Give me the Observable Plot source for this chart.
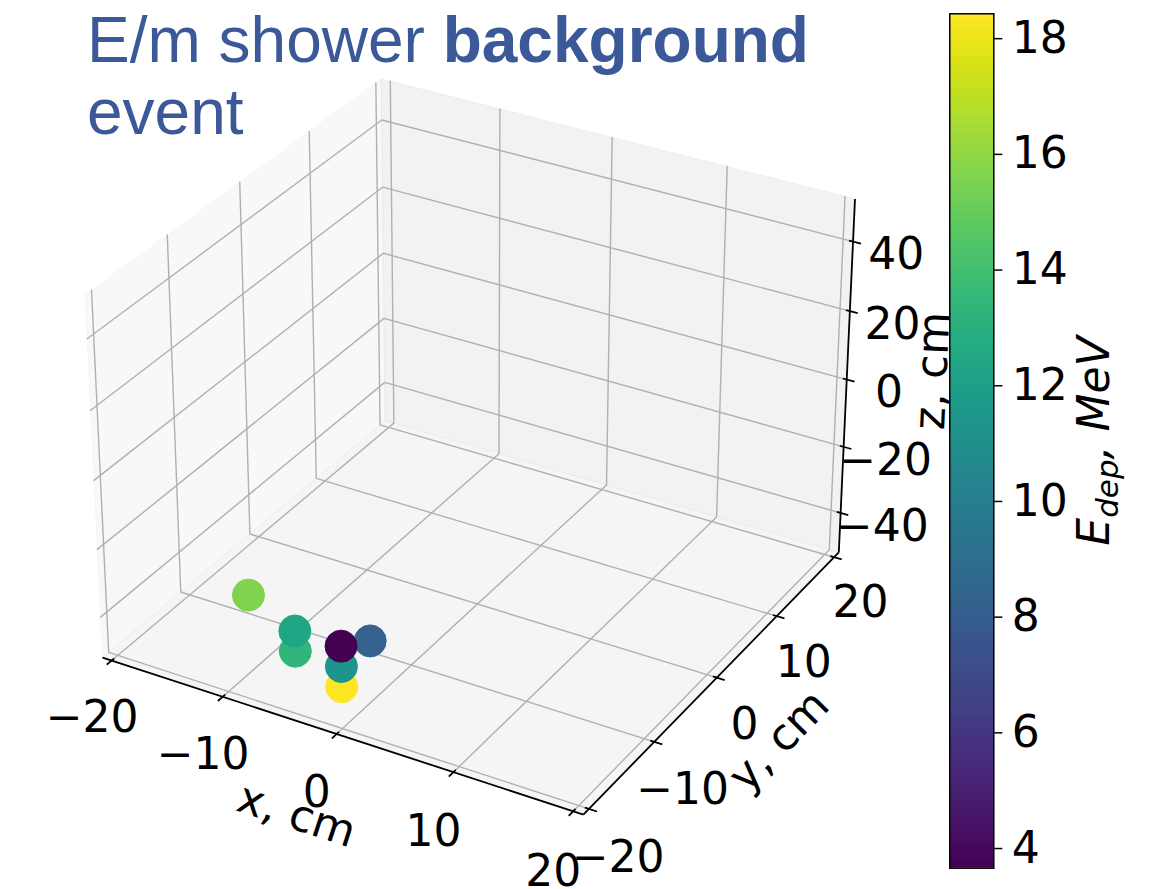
<!DOCTYPE html>
<html>
<head>
<meta charset="utf-8">
<script src="https://cdn.jsdelivr.net/npm/d3@7"></script>
<script src="https://cdn.jsdelivr.net/npm/@observablehq/plot@0.6"></script>
<style>
  html, body { margin: 0; padding: 0; background: #fff; }
  #chart { position: relative; width: 1154px; height: 889px; overflow: hidden; }
  #scene, #cbar { position: absolute; top: 0; }
  #scene { left: 0; }
  #cbar { left: 940px; }
  #title {
    position: absolute; left: 87px; top: 4px;
    font-family: "Liberation Sans", Arial, sans-serif;
    font-size: 64px; line-height: 72px; color: #3b5998; white-space: nowrap;
  }
  svg { display: block; overflow: visible; }
</style>
</head>
<body>
<div id="chart">
  <div id="scene"></div>
  <div id="cbar"></div>
  <div id="title">E/m shower <b>background</b><br>event</div>
</div>
<script>
// Calorimeter hits: position (cm) and deposited energy (MeV)
const hitX = [-13.9, -7.1, -7.1, -2.0, -2.0, -2.0, -0.5];
const hitY = [-11.0, -15.15, -15.15, -16.8, -16.8, -16.8, -15.1];
const hitZ = [-44, -46, -40, -48, -42, -36, -36];
const hitE = [15.6, 13.3, 12.4, 18.43, 11.3, 3.66, 8.2];

// Axis limits and ticks
const xLim = [-20, 20];
const yLim = [-20, 20];
const zLim = [-50, 50];
const xTicks = [-20, -10, 0, 10, 20];
const yTicks = [-20, -10, 0, 10, 20];
const zTicks = [-40, -20, 0, 20, 40];
const cbarTicks = [4, 6, 8, 10, 12, 14, 16, 18];

const eMin = d3.min(hitE), eMax = d3.max(hitE);
const fmt = t => (t < 0 ? "\u2212" : "") + Math.abs(t);

// Perspective camera (elevation 30°, azimuth -60°, box aspect 4:4:3)
const lims = [xLim, yLim, zLim];
const rawAspect = [4, 4, 3];
const boxAspect = rawAspect.map(a => a * 1.8294640721620434 / Math.hypot(...rawAspect));
const elev = 30, azim = -60, dist = 10;
const rad = Math.PI / 180;
const w = [Math.cos(elev * rad) * Math.cos(azim * rad), Math.cos(elev * rad) * Math.sin(azim * rad), Math.sin(elev * rad)];
const uRaw = [-w[1], w[0], 0];
const u = uRaw.map(c => c / Math.hypot(...uRaw));
const v = [w[1] * u[2] - w[2] * u[1], w[2] * u[0] - w[0] * u[2], w[0] * u[1] - w[1] * u[0]];

function project([x, y, z]) {
  const q = [x, y, z].map((c, i) => (c - (lims[i][0] + lims[i][1]) / 2) / (lims[i][1] - lims[i][0]) * boxAspect[i]);
  const dot = a => a[0] * q[0] + a[1] * q[1] + a[2] * q[2];
  const depth = dot(w);
  return {px: dot(u) / (dist - depth), py: dot(v) / (dist - depth), depth};
}

// Box edges are padded by 1/48 of each range; tick lengths use 1/12 of the range
const ext = lims.map(([a, b]) => [a - (b - a) / 48, b + (b - a) / 48]);
const [[X0, X1], [Y0, Y1], [Z0, Z1]] = ext;
const [dX, dY] = lims.map(([a, b]) => (b - a) / 12);

const polyRows = (lines) => lines.flatMap((pts, k) => pts.map(p => ({k, ...project(p)})));

const panes = [
  {gray: 242, pts: [[X0, Y0, Z0], [X0, Y1, Z0], [X0, Y1, Z1], [X0, Y0, Z1]]},
  {gray: 230, pts: [[X0, Y1, Z0], [X1, Y1, Z0], [X1, Y1, Z1], [X0, Y1, Z1]]},
  {gray: 236, pts: [[X0, Y0, Z0], [X1, Y0, Z0], [X1, Y1, Z0], [X0, Y1, Z0]]}
];

const gridRows = polyRows([
  ...xTicks.map(t => [[t, Y0, Z0], [t, Y1, Z0], [t, Y1, Z1]]),
  ...yTicks.map(t => [[X1, t, Z0], [X0, t, Z0], [X0, t, Z1]]),
  ...zTicks.map(t => [[X1, Y1, t], [X0, Y1, t], [X0, Y0, t]])
]);

const axisRows = polyRows([
  [[X0, Y0, Z0], [X1, Y0, Z0]],
  [[X1, Y0, Z0], [X1, Y1, Z0]],
  [[X1, Y1, Z0], [X1, Y1, Z1]]
]);

const seg = (p, q) => ({a: project(p), b: project(q)});
const tickRows = [
  ...xTicks.map(t => seg([t, Y0 - 0.2 * dY, Z0], [t, Y0 + 0.1 * dY, Z0])),
  ...yTicks.map(t => seg([X1 + 0.2 * dX, t, Z0], [X1 - 0.1 * dX, t, Z0])),
  ...zTicks.map(t => seg([X1 + 0.2 * dX, Y1, t], [X1 - 0.1 * dX, Y1, t]))
];

const tickLabels = [
  ...xTicks.map(t => ({label: fmt(t), ...project([t, Y0 - 2.9, Z0 - 11.8])})),
  ...yTicks.map(t => ({label: fmt(t), ...project([X1 + 2.45, t, Z0 - 11.6])})),
  ...zTicks.map(t => ({label: fmt(t), ...project([X1 + 3.75, Y1 - 0.3, t])}))
];

const angle = (p, q) => {
  const a = project(p), b = project(q);
  return Math.atan2(-(b.py - a.py), b.px - a.px) / rad;
};
const axisTitles = [
  {label: "x, cm", angle: angle([X0, Y0, Z0], [X1, Y0, Z0]), ...project([0, Y0 - 5.75, Z0 - 12.8])},
  {label: "y, cm", angle: angle([X1, Y0, Z0], [X1, Y1, Z0]), ...project([X1 + 5.4, 0, Z0 - 13.1])},
  {label: "z, cm", angle: angle([X1, Y1, Z0], [X1, Y1, Z1]), ...project([X1 + 5.15, Y1 + 4.55, 0])}
];

// Hits drawn from far to near
const hits = hitX.map((x, i) => ({E: hitE[i], ...project([x, hitY[i], hitZ[i]])}))
  .sort((a, b) => a.depth - b.depth);

const colorScale = {type: "linear", scheme: "viridis", domain: [eMin, eMax]};
const baseStyle = {fontFamily: "'DejaVu Sans', sans-serif", fontSize: "44px", background: "transparent", color: "black"};

const scene = Plot.plot({
  width: 1154, height: 889, margin: 0,
  x: {domain: [-0.095, 0.09], range: [37.4, 893.4], axis: null},
  y: {domain: [-0.095, 0.09], range: [868.1, 12.1], axis: null},
  color: colorScale,
  style: baseStyle,
  marks: [
    ...panes.map(p => {
      const c = `rgb(${p.gray},${p.gray},${p.gray})`;
      return Plot.line([...p.pts, p.pts[0]].map(project), {
        x: "px", y: "py", fill: c, fillOpacity: 0.5, stroke: c, strokeOpacity: 0.5, strokeWidth: 1
      });
    }),
    Plot.line(gridRows, {x: "px", y: "py", z: "k", stroke: "#b0b0b0", strokeWidth: 1.4}),
    Plot.line(axisRows, {x: "px", y: "py", z: "k", stroke: "black", strokeWidth: 1.8, strokeLinecap: "butt"}),
    Plot.link(tickRows, {x1: d => d.a.px, y1: d => d.a.py, x2: d => d.b.px, y2: d => d.b.py, stroke: "black", strokeWidth: 1.8}),
    Plot.text(tickLabels, {x: "px", y: "py", text: "label", fontSize: 44, fill: "black", textAnchor: "middle", lineAnchor: "middle"}),
    Plot.text(axisTitles, {x: "px", y: "py", text: "label", rotate: "angle", fontSize: 44, fill: "black", textAnchor: "middle", lineAnchor: "middle"}),
    Plot.dot(hits, {x: "px", y: "py", r: 16, fill: "E", stroke: "E", strokeWidth: 1})
  ]
});
document.getElementById("scene").append(scene);

// Colour bar
const nSteps = 600;
const steps = d3.range(nSteps).map(i => eMin + (eMax - eMin) * i / nSteps);
const cbarLabel = "E, MeV";
const cbar = Plot.plot({
  width: 214, height: 889,
  marginLeft: 9.3, marginRight: 160.7, marginTop: 13.3, marginBottom: 21.3,
  x: {domain: [0, 1], axis: null},
  y: {domain: [eMin, eMax]},
  color: colorScale,
  style: baseStyle,
  marks: [
    Plot.rect(steps, {x1: 0, x2: 1, y1: d => d, y2: eMax, fill: d => d}),
    Plot.frame({stroke: "black", strokeWidth: 1.5}),
    Plot.axisY(cbarTicks, {anchor: "right", tickSize: 8, tickPadding: 10, label: null, strokeWidth: 1.5,
      fontSize: 44, tickFormat: d => String(d)}),
    Plot.text([cbarLabel], {frameAnchor: "right", dx: 114.7, rotate: -90, textAnchor: "middle", lineAnchor: "bottom",
      fontStyle: "italic", fontSize: 44, fill: "black"})
  ]
});
document.getElementById("cbar").append(cbar);

// Subscripted colour-bar label: E_dep, MeV
const lab = Array.from(cbar.querySelectorAll("text")).find(t => t.textContent === cbarLabel);
if (lab) {
  while (lab.firstChild) lab.removeChild(lab.firstChild);
  const t = d3.select(lab);
  t.append("tspan").text("E");
  t.append("tspan").attr("dy", 9).attr("font-size", 31).text("dep");
  t.append("tspan").attr("dy", -9).text(", MeV");
}
</script>
</body>
</html>
